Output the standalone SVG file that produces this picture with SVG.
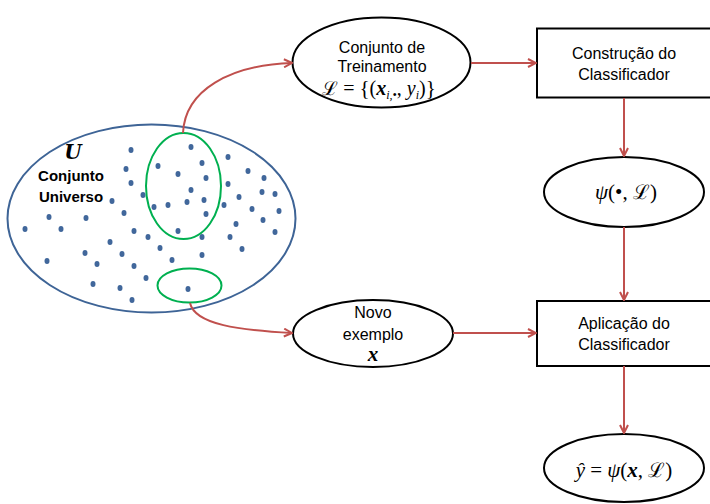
<svg xmlns="http://www.w3.org/2000/svg" width="710" height="504" viewBox="0 0 710 504">
<defs>
<marker id="arr" viewBox="0 0 10 10" refX="9" refY="5" markerWidth="10" markerHeight="10" markerUnits="userSpaceOnUse" orient="auto">
<path d="M1,1 L9,5 L1,9" fill="none" stroke="#C0504D" stroke-width="2"/>
</marker>
</defs>
<style>
.node{fill:#fff;stroke:#000;stroke-width:2}
.lbl{font-family:"Liberation Sans",Arial,sans-serif;font-size:16px;fill:#000;text-anchor:middle}
.math{font-family:"Liberation Serif","DejaVu Serif",serif;fill:#000;text-anchor:middle}
.conn{fill:none;stroke:#C0504D;stroke-width:2;marker-end:url(#arr)}
.dot{fill:#41679B}
.grn{fill:none;stroke:#00B050;stroke-width:2}
</style>
<rect width="710" height="504" fill="#fff"/>

<g id="universo">
<ellipse cx="151.5" cy="218.5" rx="144" ry="94" fill="none" stroke="#3E6496" stroke-width="2"/>
<text x="73" y="159" font-family="DejaVu Serif,serif" font-size="20" font-style="italic" font-weight="bold" text-anchor="middle">U</text>
<text x="71" y="181" font-family="Liberation Sans,Arial,sans-serif" font-size="15" font-weight="bold" text-anchor="middle">Conjunto</text>
<text x="71" y="202" font-family="Liberation Sans,Arial,sans-serif" font-size="15" font-weight="bold" text-anchor="middle">Universo</text>
<g>
<ellipse class="dot" cx="131" cy="150" rx="2.5" ry="3"/>
<ellipse class="dot" cx="191" cy="147" rx="2.5" ry="3"/>
<ellipse class="dot" cx="228" cy="157" rx="2.5" ry="3"/>
<ellipse class="dot" cx="126" cy="169" rx="2.5" ry="3"/>
<ellipse class="dot" cx="158" cy="166" rx="2.5" ry="3"/>
<ellipse class="dot" cx="202" cy="163" rx="2.5" ry="3"/>
<ellipse class="dot" cx="248" cy="171" rx="2.5" ry="3"/>
<ellipse class="dot" cx="264" cy="178" rx="2.5" ry="3"/>
<ellipse class="dot" cx="131" cy="183" rx="2.5" ry="3"/>
<ellipse class="dot" cx="178" cy="174" rx="2.5" ry="3"/>
<ellipse class="dot" cx="206" cy="178" rx="2.5" ry="3"/>
<ellipse class="dot" cx="228" cy="184" rx="2.5" ry="3"/>
<ellipse class="dot" cx="191" cy="190" rx="2.5" ry="3"/>
<ellipse class="dot" cx="262" cy="192" rx="2.5" ry="3"/>
<ellipse class="dot" cx="275" cy="194" rx="2.5" ry="3"/>
<ellipse class="dot" cx="112" cy="201" rx="2.5" ry="3"/>
<ellipse class="dot" cx="143" cy="195" rx="2.5" ry="3"/>
<ellipse class="dot" cx="239" cy="197" rx="2.5" ry="3"/>
<ellipse class="dot" cx="154" cy="207" rx="2.5" ry="3"/>
<ellipse class="dot" cx="168" cy="205" rx="2.5" ry="3"/>
<ellipse class="dot" cx="187" cy="202" rx="2.5" ry="3"/>
<ellipse class="dot" cx="204" cy="200" rx="2.5" ry="3"/>
<ellipse class="dot" cx="224" cy="205" rx="2.5" ry="3"/>
<ellipse class="dot" cx="252" cy="209" rx="2.5" ry="3"/>
<ellipse class="dot" cx="279" cy="211" rx="2.5" ry="3"/>
<ellipse class="dot" cx="49" cy="217" rx="2.5" ry="3"/>
<ellipse class="dot" cx="86" cy="218" rx="2.5" ry="3"/>
<ellipse class="dot" cx="124" cy="213" rx="2.5" ry="3"/>
<ellipse class="dot" cx="206" cy="214" rx="2.5" ry="3"/>
<ellipse class="dot" cx="263" cy="220" rx="2.5" ry="3"/>
<ellipse class="dot" cx="25" cy="229" rx="2.5" ry="3"/>
<ellipse class="dot" cx="61" cy="229" rx="2.5" ry="3"/>
<ellipse class="dot" cx="134" cy="231" rx="2.5" ry="3"/>
<ellipse class="dot" cx="148" cy="237" rx="2.5" ry="3"/>
<ellipse class="dot" cx="178" cy="231" rx="2.5" ry="3"/>
<ellipse class="dot" cx="236" cy="224" rx="2.5" ry="3"/>
<ellipse class="dot" cx="202" cy="237" rx="2.5" ry="3"/>
<ellipse class="dot" cx="230" cy="237" rx="2.5" ry="3"/>
<ellipse class="dot" cx="275" cy="232" rx="2.5" ry="3"/>
<ellipse class="dot" cx="110" cy="242" rx="2.5" ry="3"/>
<ellipse class="dot" cx="160" cy="248" rx="2.5" ry="3"/>
<ellipse class="dot" cx="242" cy="249" rx="2.5" ry="3"/>
<ellipse class="dot" cx="85" cy="253" rx="2.5" ry="3"/>
<ellipse class="dot" cx="122" cy="254" rx="2.5" ry="3"/>
<ellipse class="dot" cx="202" cy="255" rx="2.5" ry="3"/>
<ellipse class="dot" cx="47" cy="261" rx="2.5" ry="3"/>
<ellipse class="dot" cx="172" cy="260" rx="2.5" ry="3"/>
<ellipse class="dot" cx="97" cy="264" rx="2.5" ry="3"/>
<ellipse class="dot" cx="134" cy="266" rx="2.5" ry="3"/>
<ellipse class="dot" cx="146" cy="278" rx="2.5" ry="3"/>
<ellipse class="dot" cx="93" cy="284" rx="2.5" ry="3"/>
<ellipse class="dot" cx="120" cy="288" rx="2.5" ry="3"/>
<ellipse class="dot" cx="188" cy="289" rx="2.5" ry="3"/>
<ellipse class="dot" cx="132" cy="300" rx="2.5" ry="3"/>
</g>
<ellipse class="grn" cx="183.5" cy="186" rx="37.5" ry="53"/>
<ellipse class="grn" cx="189.5" cy="285.5" rx="32" ry="17"/>
</g>

<g id="treinamento">
<ellipse class="node" cx="381.5" cy="62.5" rx="89" ry="45"/>
<text class="lbl" x="382" y="53">Conjunto de</text>
<text class="lbl" x="382" y="72">Treinamento</text>
<text class="math" x="379" y="95" font-size="20"><tspan font-family="DejaVu Serif,serif" font-size="19">ℒ</tspan> = <tspan font-size="21">{</tspan>(<tspan font-weight="bold" font-style="italic">x</tspan><tspan font-size="12" font-style="italic" dy="4">i,•</tspan><tspan dy="-4">, </tspan><tspan font-style="italic">y</tspan><tspan font-size="12" font-style="italic" dy="4">i</tspan><tspan dy="-4">)</tspan><tspan font-size="21">}</tspan></text>
</g>

<g id="construcao">
<rect class="node" x="537" y="28.5" width="176" height="69"/>
<text class="lbl" x="624" y="59">Construção do</text>
<text class="lbl" x="624" y="80">Classificador</text>
</g>

<g id="psi">
<ellipse class="node" cx="624" cy="192" rx="80" ry="35"/>
<text class="math" x="626" y="199" font-size="21"><tspan font-style="italic">ψ</tspan>(•, <tspan font-family="DejaVu Serif,serif" font-size="20">ℒ</tspan>)</text>
</g>

<g id="novo">
<ellipse class="node" cx="373" cy="333.5" rx="80" ry="33.5"/>
<text class="lbl" x="373" y="318">Novo</text>
<text class="lbl" x="373" y="340">exemplo</text>
<text class="math" x="373" y="361" font-size="21" font-weight="bold" font-style="italic">x</text>
</g>

<g id="aplicacao">
<rect class="node" x="537" y="301" width="176" height="65"/>
<text class="lbl" x="624" y="329">Aplicação do</text>
<text class="lbl" x="624" y="350">Classificador</text>
</g>

<g id="predicao">
<ellipse class="node" cx="624" cy="468" rx="80" ry="34"/>
<text class="math" x="624" y="477" font-size="21"><tspan font-style="italic">ŷ</tspan> = <tspan font-style="italic">ψ</tspan>(<tspan font-weight="bold" font-style="italic">x</tspan>, <tspan font-family="DejaVu Serif,serif" font-size="20">ℒ</tspan>)</text>
</g>

<g id="connectors">
<path class="conn" d="M183,133 C185,90 230,65 292,63"/>
<path class="conn" d="M471,63 L536,63"/>
<path class="conn" d="M624,98 L624,156"/>
<path class="conn" d="M624,227 L624,300"/>
<path class="conn" d="M190,303 C195,325 240,330 292,333"/>
<path class="conn" d="M453,333 L536,333"/>
<path class="conn" d="M624,366 L624,433"/>
</g>
</svg>
